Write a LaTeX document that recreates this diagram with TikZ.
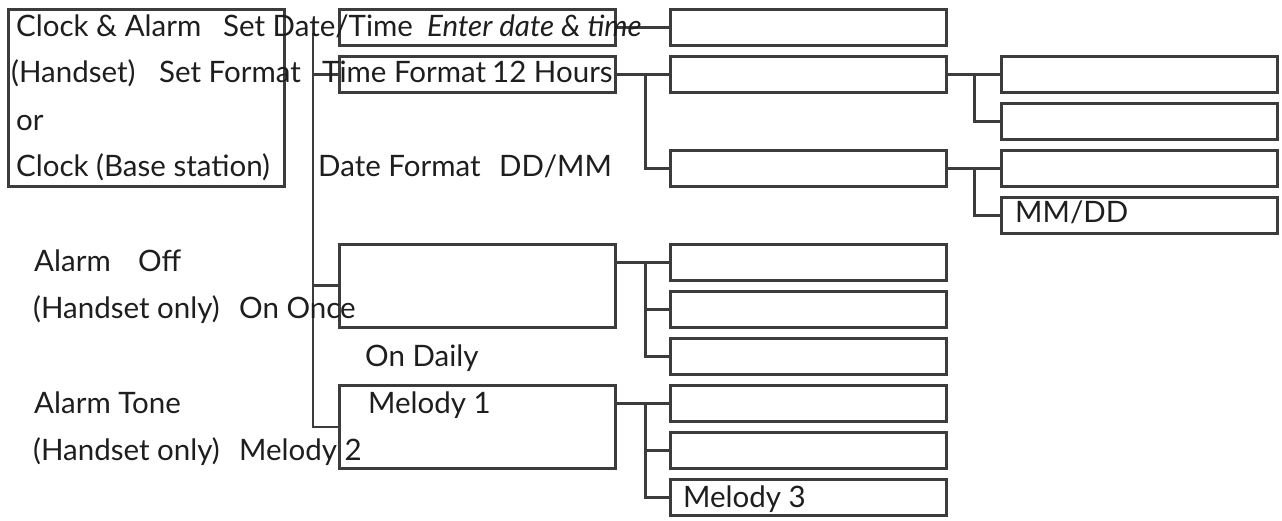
\documentclass[tikz,border=0pt]{standalone}
\usepackage{fontspec}
\setmainfont{Lato}
\begin{document}
\begin{tikzpicture}[x=1pt,y=-1pt,
  box/.style={draw=linegray,line width=2.8pt,minimum height=36pt,inner sep=0pt},
  tall/.style={box,minimum height=83pt},
  wbox/.style={box,minimum width=276pt},
  lbl/.style={anchor=base west,inner sep=0pt,text=textblack,font=\fontsize{29.5}{34}\selectfont},
  conn/.style={draw=linegray,line width=2.8pt}]
\definecolor{linegray}{HTML}{3C3C3C}
\definecolor{textblack}{HTML}{1E1E1E}
\useasboundingbox[fill=white] (0,0) rectangle (1282,521);
% main box
\node[draw=linegray,line width=2.8pt,inner sep=0pt,minimum width=276pt,minimum height=177pt,anchor=north west] (main) at (7,8) {};
% second column
\node[wbox,anchor=north west] (sd) at (338,8) {};
\node[wbox,anchor=north west] (sf) at (338,55) {};
\node[wbox,tall,anchor=north west] (al) at (338,243) {};
\node[wbox,tall,anchor=north west] (at) at (338,384) {};
% third column
\node[wbox,anchor=north west] (sdv) at (669,8) {};
\node[wbox,anchor=north west] (tf) at (669,55) {};
\node[wbox,anchor=north west] (df) at (669,149) {};
\node[wbox,anchor=north west] (a1) at (669,243) {};
\node[wbox,anchor=north west] (a2) at (669,290) {};
\node[wbox,anchor=north west] (a3) at (669,337) {};
\node[wbox,anchor=north west] (m1) at (669,384) {};
\node[wbox,anchor=north west] (m2) at (669,431) {};
\node[wbox,anchor=north west] (m3) at (669,478) {};
% fourth column
\node[wbox,anchor=north west] (t1) at (1000,55) {};
\node[wbox,anchor=north west] (t2) at (1000,102) {};
\node[wbox,anchor=north west] (d1) at (1000,149) {};
\node[wbox,anchor=north west] (d2) at (1000,196) {};
% trunk
\coordinate (trunktop) at (313,33);
\draw[conn] (trunktop) |- (at.west);
\draw[conn] (trunktop |- sf.west) -- (sf.west);
\draw[conn] (trunktop |- al.west) -- (al.west);
% connectors
\draw[conn] (sd.east) -- (sdv.west);
\draw[conn] (sf.east) -- (tf.west);
\draw[conn] ([xshift=29pt]sf.east) |- (df.west);
\draw[conn] (tf.east) -- (t1.west);
\draw[conn] ([xshift=27pt]tf.east) |- (t2.west);
\draw[conn] (df.east) -- (d1.west);
\draw[conn] ([xshift=27pt]df.east) |- (d2.west);
\draw[conn] (al.east |- a1.west) -- (a1.west);
\draw[conn] ([xshift=29pt]al.east |- a1.west) |- (a2.west);
\draw[conn] ([xshift=29pt]al.east |- a1.west) |- (a3.west);
\draw[conn] (at.east |- m1.west) -- (m1.west);
\draw[conn] ([xshift=29pt]at.east |- m1.west) |- (m2.west);
\draw[conn] ([xshift=29pt]at.east |- m1.west) |- (m3.west);
% texts
\node[lbl] (t01) at (16,37) {Clock \& Alarm};
\node[lbl] (t02) at (223,37) {Set Date/Time};
\node[lbl] (t03) at (427,37) {\itshape Enter date \& time};
\node[lbl] (t04) at (11,83) {(Handset)};
\node[lbl] (t05) at (159,83) {Set Format};
\node[lbl] (t06) at (322,83) {Time Format};
\node[lbl] (t07) at (492,83) {12 Hours};
\node[lbl] (t08) at (16,131) {or};
\node[lbl] (t09) at (16,177) {Clock (Base station)};
\node[lbl] (t10) at (318,177) {Date Format};
\node[lbl] (t11) at (499,177) {DD/MM};
\node[lbl] (t12) at (1015,223) {MM/DD};
\node[lbl] (t13) at (34,272) {Alarm};
\node[lbl] (t14) at (138,272) {Off};
\node[lbl] (t15) at (33,319) {(Handset only)};
\node[lbl] (t16) at (239,319) {On Once};
\node[lbl] (t17) at (365,366) {On Daily};
\node[lbl] (t18) at (34,413) {Alarm Tone};
\node[lbl] (t19) at (368,413) {Melody 1};
\node[lbl] (t20) at (33,460) {(Handset only)};
\node[lbl] (t21) at (239,460) {Melody 2};
\node[lbl] (t22) at (683,507) {Melody 3};
\end{tikzpicture}
\end{document}
